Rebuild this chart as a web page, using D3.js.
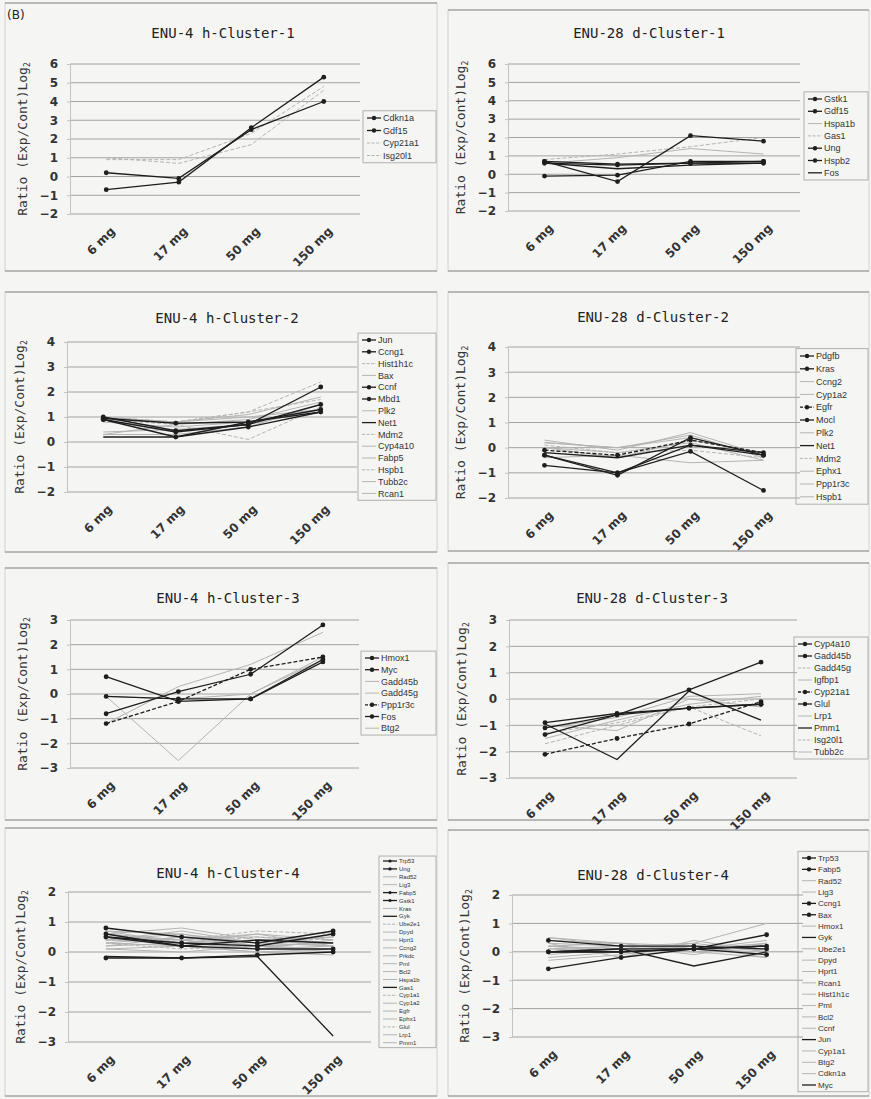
<!DOCTYPE html>
<html>
<head>
<meta charset="utf-8">
<script src="https://cdn.jsdelivr.net/npm/d3@7"></script>
<style>
  body { margin: 0; background: #f5f5f3; }
</style>
</head>
<body>
<div id="fig"></div>
<script>
// doses on the x axis (same for every panel)
var doses = ["6 mg", "17 mg", "50 mg", "150 mg"];

// kinds: m = dark + marker, d = dark line, l = light, ld = light dashed, md = marker dashed

// ENU-4 h-Cluster-1
var h1Genes = ["Cdkn1a", "Gdf15", "Cyp21a1", "Isg20l1"];
var h1Kinds = ["m", "m", "ld", "ld"];
var h1Values = [
  [-0.7, -0.3, 2.6, 5.3],
  [0.2, -0.1, 2.5, 4.0],
  [1.0, 0.7, 1.7, 4.6],
  [0.9, 0.9, 2.3, 4.8]
];

// ENU-28 d-Cluster-1
var d1Genes = ["Gstk1", "Gdf15", "Hspa1b", "Gas1", "Ung", "Hspb2", "Fos"];
var d1Kinds = ["m", "m", "l", "ld", "m", "m", "d"];
var d1Values = [
  [0.6, 0.5, 0.6, 0.7],
  [0.7, -0.4, 2.1, 1.8],
  [0.6, 0.9, 1.4, 1.1],
  [0.8, 1.1, 1.5, 2.0],
  [-0.1, -0.05, 0.7, 0.7],
  [0.7, 0.55, 0.6, 0.6],
  [0.6, 0.3, 0.5, 0.6]
];

// ENU-4 h-Cluster-2
var h2Genes = ["Jun", "Ccng1", "Hist1h1c", "Bax", "Ccnf", "Mbd1", "Plk2", "Net1",
  "Mdm2", "Cyp4a10", "Fabp5", "Hspb1", "Tubb2c", "Rcan1"];
var h2Kinds = ["m", "m", "ld", "l", "m", "m", "l", "d", "ld", "l", "l", "ld", "l", "l"];
var h2Values = [
  [0.95, 0.75, 0.8, 1.3],
  [0.9, 0.4, 0.7, 2.2],
  [1.0, 0.8, 1.2, 2.4],
  [0.9, 0.8, 1.1, 1.8],
  [0.9, 0.2, 0.6, 1.2],
  [1.0, 0.45, 0.7, 1.5],
  [0.3, 0.7, 0.9, 1.6],
  [0.2, 0.2, 0.8, 1.2],
  [0.9, 0.7, 0.1, 1.4],
  [1.0, 0.8, 1.0, 1.3],
  [0.3, 0.3, 0.6, 1.5],
  [0.9, 0.8, 1.2, 1.7],
  [0.8, 0.6, 0.8, 1.2],
  [0.4, 0.5, 0.7, 1.3]
];

// ENU-28 d-Cluster-2
var d2Genes = ["Pdgfb", "Kras", "Ccng2", "Cyp1a2", "Egfr", "Mocl", "Plk2", "Net1",
  "Mdm2", "Ephx1", "Ppp1r3c", "Hspb1"];
var d2Kinds = ["m", "m", "l", "l", "md", "m", "l", "d", "ld", "l", "l", "l"];
var d2Values = [
  [-0.3, -1.0, -0.15, -1.7],
  [-0.3, -1.1, 0.4, -0.3],
  [0.3, -0.1, 0.6, -0.3],
  [0.2, 0.0, 0.5, -0.4],
  [-0.1, -0.3, 0.3, -0.2],
  [-0.7, -1.0, 0.1, -0.3],
  [0.0, -0.2, 0.2, -0.5],
  [-0.2, -0.4, 0.1, -0.2],
  [0.1, -0.2, -0.1, -0.4],
  [-0.4, -0.3, -0.6, -0.5],
  [0.0, -0.4, 0.3, -0.2],
  [0.2, 0.0, 0.4, -0.3]
];

// ENU-4 h-Cluster-3
var h3Genes = ["Hmox1", "Myc", "Gadd45b", "Gadd45g", "Ppp1r3c", "Fos", "Btg2"];
var h3Kinds = ["m", "m", "l", "l", "md", "m", "l"];
var h3Values = [
  [0.7, -0.3, -0.2, 1.4],
  [-0.8, 0.1, 0.8, 2.8],
  [-1.2, 0.3, 1.2, 2.5],
  [-0.1, -2.7, 0.0, 1.4],
  [-1.2, -0.3, 1.0, 1.5],
  [-0.1, -0.2, -0.2, 1.3],
  [-0.1, -0.2, 0.0, 1.5]
];

// ENU-28 d-Cluster-3
var d3Genes = ["Cyp4a10", "Gadd45b", "Gadd45g", "Igfbp1", "Cyp21a1", "Glul", "Lrp1",
  "Pmm1", "Isg20l1", "Tubb2c"];
var d3Kinds = ["m", "m", "ld", "l", "md", "m", "l", "d", "ld", "l"];
var d3Values = [
  [-1.1, -0.6, 0.35, 1.4],
  [-0.9, -0.55, -0.35, -0.2],
  [-1.7, -1.0, -0.3, 0.0],
  [-1.5, -0.8, -0.2, 0.1],
  [-2.1, -1.5, -0.95, -0.1],
  [-1.35, -0.6, -0.35, -0.2],
  [-1.0, -1.2, 0.0, -0.3],
  [-0.95, -2.3, 0.3, -0.8],
  [-1.3, -0.9, -0.3, -1.4],
  [-1.1, -0.7, 0.1, 0.2]
];

// ENU-4 h-Cluster-4
var h4Genes = ["Trp53", "Ung", "Rad52", "Lig3", "Fabp5", "Gstk1", "Kras", "Gyk",
  "Ube2e1", "Dpyd", "Hprt1", "Ccng2", "Prkdc", "Pml", "Bcl2", "Hspa1b", "Gas1",
  "Cyp1a1", "Cyp1a2", "Egfr", "Ephx1", "Glul", "Lrp1", "Pmm1"];
var h4Kinds = ["m", "m", "l", "l", "m", "m", "l", "d", "ld", "l", "l", "l", "l", "l",
  "l", "l", "d", "ld", "l", "l", "l", "ld", "l", "l"];
var h4Values = [
  [0.5, 0.3, 0.2, 0.6],
  [0.8, 0.5, 0.3, 0.7],
  [0.6, 0.8, 0.4, 0.5],
  [0.4, 0.3, 0.6, 0.4],
  [0.6, 0.2, 0.1, 0.1],
  [-0.2, -0.2, -0.1, 0.0],
  [0.3, 0.5, 0.2, 0.3],
  [-0.15, -0.2, -0.15, -2.8],
  [0.4, 0.4, 0.7, 0.6],
  [0.7, 0.6, 0.3, 0.2],
  [0.3, 0.2, 0.0, 0.1],
  [0.5, 0.4, 0.2, 0.0],
  [0.2, 0.5, 0.5, 0.3],
  [0.6, 0.4, 0.1, 0.2],
  [0.1, 0.2, 0.0, -0.1],
  [0.4, 0.7, 0.3, 0.5],
  [0.5, 0.2, 0.4, 0.3],
  [0.3, 0.1, 0.2, 0.5],
  [0.7, 0.3, 0.4, 0.2],
  [0.2, 0.3, 0.1, 0.4],
  [0.4, 0.6, 0.2, 0.1],
  [0.6, 0.3, 0.5, 0.4],
  [0.1, 0.0, 0.2, 0.3],
  [0.5, 0.4, 0.6, 0.2]
];

// ENU-28 d-Cluster-4
var d4Genes = ["Trp53", "Fabp5", "Rad52", "Lig3", "Ccng1", "Bax", "Hmox1", "Gyk",
  "Ube2e1", "Dpyd", "Hprt1", "Rcan1", "Hist1h1c", "Pml", "Bcl2", "Ccnf", "Jun",
  "Cyp1a1", "Btg2", "Cdkn1a", "Myc"];
var d4Kinds = ["m", "m", "l", "l", "m", "m", "l", "d", "l", "l", "l", "l", "l", "l",
  "l", "l", "d", "l", "l", "l", "d"];
var d4Values = [
  [0.0, 0.0, 0.1, 0.2],
  [-0.6, -0.2, 0.1, 0.6],
  [0.5, 0.2, 0.2, 0.1],
  [0.4, 0.3, 0.0, 0.3],
  [0.0, 0.0, 0.1, -0.1],
  [0.4, 0.2, 0.2, 0.1],
  [0.2, 0.0, 0.3, 1.0],
  [0.0, 0.1, 0.1, 0.2],
  [0.3, -0.2, 0.4, 0.0],
  [-0.1, 0.1, 0.0, -0.2],
  [0.1, 0.2, -0.1, 0.3],
  [0.5, 0.3, 0.2, -0.2],
  [0.2, 0.1, 0.0, 0.2],
  [-0.3, -0.1, 0.2, 0.1],
  [0.0, 0.2, 0.3, 0.0],
  [0.1, 0.0, 0.1, 0.3],
  [0.0, 0.1, -0.5, 0.0],
  [0.3, 0.2, 0.1, 0.4],
  [-0.2, 0.0, 0.2, -0.1],
  [0.2, 0.3, 0.0, 0.1],
  [0.0, 0.0, 0.1, 0.2]
];

var titles = ["ENU-4 h-Cluster-1", "ENU-28 d-Cluster-1", "ENU-4 h-Cluster-2", "ENU-28 d-Cluster-2",
  "ENU-4 h-Cluster-3", "ENU-28 d-Cluster-3", "ENU-4 h-Cluster-4", "ENU-28 d-Cluster-4"];
var yDomains = [[-2, 6], [-2, 6], [-2, 4], [-2, 4], [-3, 3], [-3, 3], [-3, 2], [-3, 2]];

// layout of each panel: frame box, plot area [left,right,top,bottom], title centre, legend [x,y,row,fontsize]
var layouts = [
  {box: [5, 3, 437, 271], plot: [70, 360, 64, 214], title: [223, 33], legend: [367, 118, 12.5, 9]},
  {box: [448, 10, 869, 271], plot: [508, 800, 64, 211], title: [649, 33], legend: [808, 99, 12.3, 9]},
  {box: [5, 292, 437, 552], plot: [67, 357, 342, 492], title: [227, 318], legend: [362, 340, 11.8, 9]},
  {box: [448, 292, 869, 551], plot: [508, 800, 347, 498], title: [653, 317], legend: [800, 356, 12.8, 9]},
  {box: [5, 568, 437, 820], plot: [70, 359, 620, 768], title: [228, 598], legend: [365, 658, 11.7, 9]},
  {box: [448, 563, 869, 820], plot: [509, 797, 620, 778], title: [652, 598], legend: [798, 644, 12, 9]},
  {box: [5, 828, 437, 1096], plot: [68, 371, 892, 1042], title: [228, 873], legend: [383, 861, 7.9, 6]},
  {box: [448, 830, 869, 1096], plot: [512, 803, 895, 1037], title: [653, 875], legend: [802, 858, 11.35, 8]}
];

var panels = [
  {genes: h1Genes, kinds: h1Kinds, values: h1Values},
  {genes: d1Genes, kinds: d1Kinds, values: d1Values},
  {genes: h2Genes, kinds: h2Kinds, values: h2Values},
  {genes: d2Genes, kinds: d2Kinds, values: d2Values},
  {genes: h3Genes, kinds: h3Kinds, values: h3Values},
  {genes: d3Genes, kinds: d3Kinds, values: d3Values},
  {genes: h4Genes, kinds: h4Kinds, values: h4Values},
  {genes: d4Genes, kinds: d4Kinds, values: d4Values}
];

var svg = d3.select("#fig").append("svg")
  .attr("width", 871)
  .attr("height", 1099)
  .style("background", "#f5f5f3");

svg.append("text")
  .attr("x", 7).attr("y", 19)
  .attr("font-family", "DejaVu Sans")
  .attr("font-size", 12)
  .attr("fill", "#222")
  .text("(B)");

function strokeOf(k) { return (k == "l" || k == "ld") ? "#b4b4b4" : "#1e1e1e"; }
function dashOf(k) { return (k == "ld" || k == "md") ? "4,2" : null; }
function widthOf(k) { return (k == "l" || k == "ld") ? 1 : 1.3; }

panels.forEach(function(p, pi) {
  var L = layouts[pi];
  var g = svg.append("g");

  // panel frame: darker top/bottom edges, faint sides
  g.append("rect")
    .attr("x", L.box[0]).attr("y", L.box[1])
    .attr("width", L.box[2] - L.box[0]).attr("height", L.box[3] - L.box[1])
    .attr("fill", "none").attr("stroke", "#d2d2d2");
  g.selectAll(".edge").data([L.box[1], L.box[3]]).enter().append("line")
    .attr("x1", L.box[0]).attr("x2", L.box[2])
    .attr("y1", function(d) { return d; }).attr("y2", function(d) { return d; })
    .attr("stroke", "#8e8e8e").attr("stroke-width", 1.2);

  var x = d3.scalePoint().domain(doses).range([L.plot[0], L.plot[1]]).padding(0.5);
  var y = d3.scaleLinear().domain(yDomains[pi]).range([L.plot[3], L.plot[2]]);
  var ticks = d3.range(yDomains[pi][0], yDomains[pi][1] + 1);

  // grid lines
  g.selectAll(".grid").data(ticks).enter().append("line")
    .attr("x1", L.plot[0]).attr("x2", L.plot[1])
    .attr("y1", function(d) { return y(d); })
    .attr("y2", function(d) { return y(d); })
    .attr("stroke", "#a2a2a2");

  // y axis
  var ya = g.append("g")
    .attr("transform", "translate(" + L.plot[0] + ",0)")
    .call(d3.axisLeft(y).tickValues(ticks).tickSize(3).tickFormat(d3.format("d")));
  ya.select(".domain").attr("stroke", "#c2c2c2");
  ya.selectAll(".tick line").attr("stroke", "#c2c2c2");
  ya.selectAll("text")
    .attr("font-family", "DejaVu Sans").attr("font-weight", "bold")
    .attr("font-size", 12).attr("fill", "#333").attr("dx", "-6");

  // x axis labels, rotated
  var xa = g.append("g")
    .attr("transform", "translate(0," + L.plot[3] + ")")
    .call(d3.axisBottom(x).tickSize(0));
  xa.select(".domain").remove();
  xa.selectAll("text")
    .attr("y", 0).attr("dy", "0.35em")
    .attr("text-anchor", "end")
    .attr("transform", "translate(6,15) rotate(-45)")
    .attr("font-family", "DejaVu Sans").attr("font-weight", "bold")
    .attr("font-size", 12).attr("fill", "#333");

  // y axis title
  var yl = g.append("text")
    .attr("transform", "translate(" + (L.plot[0] - 43) + "," + ((L.plot[2] + L.plot[3]) / 2) + ") rotate(-90)")
    .attr("text-anchor", "middle")
    .attr("font-family", "DejaVu Sans Mono")
    .attr("font-size", 13).attr("fill", "#333");
  yl.append("tspan").text("Ratio (Exp/Cont)Log");
  yl.append("tspan").attr("font-size", 8).attr("dy", 3).text("2");

  // title
  g.append("text")
    .attr("x", L.title[0]).attr("y", L.title[1] + 5)
    .attr("text-anchor", "middle")
    .attr("font-family", "DejaVu Sans Mono")
    .attr("font-size", 14).attr("fill", "#222")
    .text(titles[pi]);

  // series: light ones first, dark on top
  var line = d3.line()
    .x(function(d, i) { return x(doses[i]); })
    .y(function(d) { return y(d); });

  var order = d3.range(p.genes.length).sort(function(a, b) {
    var da = (p.kinds[a] == "l" || p.kinds[a] == "ld") ? 0 : 1;
    var db = (p.kinds[b] == "l" || p.kinds[b] == "ld") ? 0 : 1;
    return da - db || a - b;
  });

  order.forEach(function(si) {
    var k = p.kinds[si];
    g.append("path")
      .datum(p.values[si])
      .attr("d", line)
      .attr("fill", "none")
      .attr("stroke", strokeOf(k))
      .attr("stroke-width", widthOf(k))
      .attr("stroke-dasharray", dashOf(k));
    if (k == "m" || k == "md") {
      g.selectAll(null).data(p.values[si]).enter().append("circle")
        .attr("cx", function(d, i) { return x(doses[i]); })
        .attr("cy", function(d) { return y(d); })
        .attr("r", 2.4)
        .attr("fill", "#1e1e1e");
    }
  });

  // legend
  var lx = L.legend[0], ly = L.legend[1], dy = L.legend[2], fs = L.legend[3];
  g.append("rect")
    .attr("x", lx - 4).attr("y", ly - dy / 2 - 1)
    .attr("width", L.box[2] - 1 - (lx - 4)).attr("height", p.genes.length * dy + 2)
    .attr("fill", "none").attr("stroke", "#b0b0b0");

  var items = g.selectAll(".leg").data(p.genes).enter().append("g")
    .attr("transform", function(d, i) { return "translate(" + lx + "," + (ly + i * dy) + ")"; });
  items.append("line")
    .attr("x1", 0).attr("x2", 14)
    .attr("stroke", function(d, i) { return strokeOf(p.kinds[i]); })
    .attr("stroke-width", function(d, i) { return widthOf(p.kinds[i]); })
    .attr("stroke-dasharray", function(d, i) { return dashOf(p.kinds[i]) ? "3,1.5" : null; });
  items.filter(function(d, i) { return p.kinds[i] == "m" || p.kinds[i] == "md"; })
    .append("circle").attr("cx", 7).attr("r", fs > 7 ? 2.2 : 1.6).attr("fill", "#1e1e1e");
  items.append("text")
    .attr("x", 16).attr("dy", "0.35em")
    .attr("font-family", "Liberation Sans")
    .attr("font-size", fs).attr("fill", "#333")
    .text(function(d) { return d; });
});
</script>
</body>
</html>
